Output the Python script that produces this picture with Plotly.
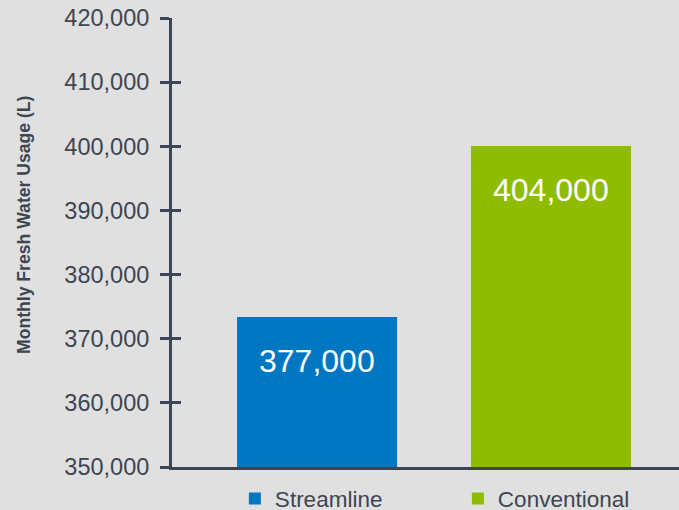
import plotly.graph_objects as go

categories = ["Streamline", "Conventional"]
bar_values = [373400, 400050]
bar_labels = ["377,000", "404,000"]
bar_colors = ["#0077c0", "#8fbc00"]
y_tickvals = [350000, 360000, 370000, 380000, 390000, 400000, 410000, 420000]
y_ticktext = ["350,000", "360,000", "370,000", "380,000", "390,000", "400,000", "410,000", "420,000"]
y_title = "Monthly Fresh Water Usage (L)"

AXIS = "#3d4552"
TEXT = "#3e4551"
BG = "#e0e0e0"
FONT = "Liberation Sans, Arial, sans-serif"

fig = go.Figure()
for cat, val, col in zip(categories, bar_values, bar_colors):
    fig.add_trace(go.Bar(x=[cat], y=[val], name=cat, marker_color=col,
                         marker_line_width=0, width=0.684, hoverinfo="skip"))

for cat, val, lab in zip(categories, bar_values, bar_labels):
    fig.add_annotation(x=cat, y=val, text=lab, showarrow=False, yanchor="middle",
                       yshift=-44, font=dict(family=FONT, size=32, color="white"))

fig.add_annotation(xref="paper", yref="paper", x=-0.292, y=0.539, text="<b>%s</b>" % y_title,
                   textangle=-90, showarrow=False, xanchor="center", yanchor="middle",
                   font=dict(family=FONT, size=17.6, color=TEXT))

fig.update_layout(
    width=679, height=510,
    paper_bgcolor=BG, plot_bgcolor=BG,
    margin=dict(l=172, r=0, t=18, b=43, autoexpand=False),
    barmode="overlay",
    showlegend=True,
    legend=dict(orientation="h", x=0.124, xanchor="left", y=-0.071, yanchor="middle",
                font=dict(family=FONT, size=22.5, color=TEXT), entrywidth=178,
                bgcolor="rgba(0,0,0,0)", itemclick=False),
    xaxis=dict(type="category", range=[-0.62, 1.547], showline=True, linewidth=3,
               linecolor=AXIS, showticklabels=False, ticks="", showgrid=False, zeroline=False),
    yaxis=dict(range=[350000, 420000], tickvals=y_tickvals, ticktext=y_ticktext,
               showline=True, linewidth=3, linecolor=AXIS, ticks="outside", ticklen=9,
               tickwidth=3, tickcolor=AXIS, showgrid=False, zeroline=False,
               tickfont=dict(family=FONT, size=23.5, color=TEXT), ticklabelstandoff=6),
    yaxis2=dict(range=[350000, 420000], overlaying="y", tickvals=y_tickvals,
                ticks="inside", ticklen=9, tickwidth=3, tickcolor=AXIS,
                showticklabels=False, showgrid=False, zeroline=False, showline=False),
)
# invisible trace to activate yaxis2
fig.add_trace(go.Scatter(x=[categories[0]], y=[bar_values[0]], yaxis="y2", mode="markers",
                         marker=dict(opacity=0), showlegend=False, hoverinfo="skip"))

fig.write_html("out.html", config={"displayModeBar": False},
               post_script="document.body.style.margin='0';document.body.style.padding='0';")
